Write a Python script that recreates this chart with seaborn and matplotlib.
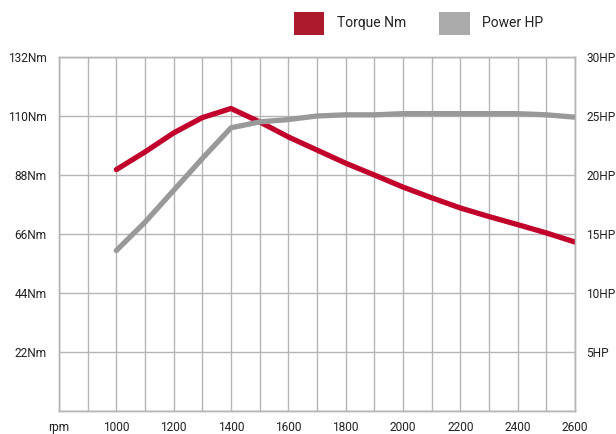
import matplotlib
matplotlib.use("Agg")
import matplotlib.pyplot as plt
from matplotlib.patches import Patch
import seaborn as sns

# ===== Data =====
rpm = [1000, 1100, 1200, 1300, 1400, 1500, 1600, 1700, 1800,
       1900, 2000, 2100, 2200, 2300, 2400, 2500, 2600]
torque_nm = [90.0, 96.6, 103.7, 109.4, 112.8, 107.8, 102.2, 97.3, 92.4,
             88.0, 83.5, 79.5, 75.7, 72.5, 69.5, 66.4, 63.0]
power_hp = [13.6, 16.0, 18.7, 21.4, 24.0, 24.5, 24.7, 25.0, 25.1,
            25.1, 25.2, 25.2, 25.2, 25.2, 25.2, 25.1, 24.9]

x_ticks = list(range(800, 2700, 100))
x_labels = ["rpm" if t == 800 else (str(t) if t % 200 == 0 else "") for t in x_ticks]
nm_ticks = [0, 22, 44, 66, 88, 110, 132]
nm_labels = ["", "22Nm", "44Nm", "66Nm", "88Nm", "110Nm", "132Nm"]
hp_ticks = [0, 5, 10, 15, 20, 25, 30]
hp_labels = ["", "5HP", "10HP", "15HP", "20HP", "25HP", "30HP"]

RED = "#c1002b"
GREY = "#999999"
GRID = "#b5b5b5"
TXT = "#222222"

sns.set_style("white")
plt.rcParams["font.family"] = ["Roboto", "DejaVu Sans"]

fig = plt.figure(figsize=(6.16, 4.34), dpi=100)
ax = fig.add_axes([59 / 616, 23 / 434, 516 / 616, 354 / 434])
ax2 = ax.twinx()

# ----------------------------
# Curves
# ----------------------------
sns.lineplot(x=rpm, y=torque_nm, ax=ax, color=RED, lw=3.8, zorder=3)
sns.lineplot(x=rpm, y=power_hp, ax=ax2, color=GREY, lw=3.8, zorder=3)

# ----------------------------
# Axes, grid and labels
# ----------------------------
ax.set_xlim(800, 2600)
ax.set_ylim(0, 132)
ax2.set_ylim(0, 30)
ax.set_xticks(x_ticks)
ax.set_xticklabels(x_labels)
ax.set_yticks(nm_ticks)
ax.set_yticklabels(nm_labels)
ax2.set_yticks(hp_ticks)
ax2.set_yticklabels(hp_labels)

ax.grid(True, color=GRID, lw=1)
ax.set_axisbelow(True)
ax2.grid(False)
ax2.patch.set_visible(False)

for a in (ax, ax2):
    for sp in a.spines.values():
        sp.set_color(GRID)
        sp.set_linewidth(1)

ax.tick_params(axis="y", length=0, pad=9, labelsize=8.6, labelcolor=TXT)
ax.tick_params(axis="x", length=0, pad=7, labelsize=8.6, labelcolor=TXT)
ax2.tick_params(axis="y", length=0, pad=8, labelsize=8.6, labelcolor=TXT)
ax.set_xlabel("")
ax.set_ylabel("")
ax2.set_ylabel("")

# curves above the grid of the main axes
ax.set_zorder(1)
ax2.set_zorder(2)

# ----------------------------
# Legend
# ----------------------------
handles = [Patch(facecolor="#ad1a2d", edgecolor="none", label="Torque Nm"),
           Patch(facecolor="#aaaaaa", edgecolor="none", label="Power HP")]
fig.legend(handles=handles, loc="upper left", bbox_to_anchor=(281 / 616, 1 + 1 / 434),
           ncol=2, frameon=False, fontsize=10, handlelength=2.2, handleheight=2.2,
           handletextpad=0.9, columnspacing=2.4, labelcolor=TXT)

fig.savefig("out.png", dpi=100)
